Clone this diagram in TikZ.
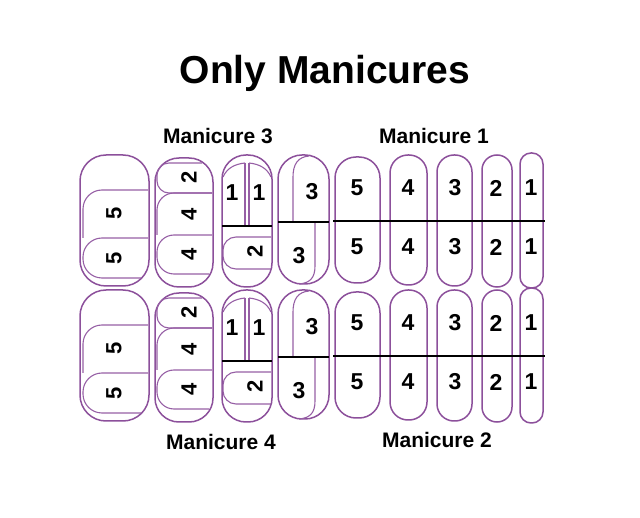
\documentclass[tikz,border=0pt]{standalone}
\usepackage{fontspec}
\setmainfont{Liberation Sans}
\usetikzlibrary{positioning}
\definecolor{nailpurple}{RGB}{140,80,155}
\definecolor{piecepurple}{RGB}{150,95,165}

\begin{document}
\begin{tikzpicture}[x=1pt,y=-1pt]

        % Style definitions
        \tikzstyle{nail} = [draw=nailpurple, line width=1.5pt]
        \tikzstyle{piece} = [draw=piecepurple, line width=1.1pt]
        \tikzstyle{split} = [draw=black, line width=1.4pt]
        \tikzstyle{num} = [inner sep=0pt, font=\bfseries\fontsize{23}{23}\selectfont]
        \tikzstyle{numrot} = [inner sep=0pt, rotate=90, font=\bfseries\fontsize{22}{22}\selectfont]
        \tikzstyle{caption} = [font=\bfseries\fontsize{21}{21}\selectfont]

        \useasboundingbox (0,0) rectangle (640,518);

        % Title and captions
        \node[font=\bfseries\fontsize{39}{39}\selectfont] (title) at (325,73) {Only Manicures};
        \node[caption] (man3) at (218,136) {Manicure 3};
        \node[caption] (man1) at (434,136) {Manicure 1};
        \node[caption] (man4) at (221,442) {Manicure 4};
        \node[caption] (man2) at (437,440) {Manicure 2};

        % Both rows of nails
        \foreach \row/\dy in {u/0, d/135} {
        \begin{scope}[shift={(0,\dy)}]

            % Nail A: two pieces
            \draw[nail, rounded corners=26] (80,155) rectangle (149,286);
            \draw[piece, rounded corners=19] (148,190) -- (83,190) -- (83,238);
            \draw[piece, rounded corners=19] (148,238) -- (83,238) -- (83,278) -- (141,278);
            \node[numrot] (a1-\row) at (114,213) {5};
            \node[numrot] (a2-\row) at (114,258) {5};

            % Nail B: three pieces
            \draw[nail, rounded corners=24] (155,158) rectangle (213,287);
            \draw[piece, rounded corners=12] (202,163) -- (157,163) -- (157,193) -- (212,193);
            \draw[piece, rounded corners=17] (212,193) -- (157,193) -- (157,235);
            \draw[piece, rounded corners=17] (212,235) -- (157,235) -- (157,274) -- (209,274);
            \node[numrot] (b1-\row) at (189,177) {2};
            \node[numrot] (b2-\row) at (189,214) {4};
            \node[numrot] (b3-\row) at (189,254) {4};

            % Nail C: split top, one piece below
            \draw[nail, rounded corners=24] (222,155) rectangle (272,287);
            \draw[piece] (245,163) -- (245,226);
            \draw[piece] (249,163) -- (249,226);
            \draw[piece] (245,163) .. controls (235,164) and (227,168) .. (223,177);
            \draw[piece] (249,163) .. controls (259,164) and (267,168) .. (271,177);
            \draw[split] (222,226) -- (272,226);
            \draw[piece, rounded corners=13] (271,237) -- (223,237) -- (223,269) -- (271,269);
            \node[num] (c1-\row) at (232,193) {1};
            \node[num] (c2-\row) at (259,193) {1};
            \node[numrot] (c3-\row) at (255,251) {2};

            % Nail D: two offset pieces
            \draw[nail, rounded corners=24] (278,155) rectangle (329,284);
            \draw[piece] (293,222) -- (293,177) .. controls (293,164) and (298,157) .. (309,156);
            \draw[piece] (315,222) -- (315,266) .. controls (315,278) and (310,283) .. (299,284);
            \draw[split] (278,222) -- (329,222);
            \node[num] (d1-\row) at (312,192) {3};
            \node[num] (d2-\row) at (299,256) {3};

            % Nails E to I: halves
            \draw[nail, rounded corners=21] (335,157) rectangle (380,283);
            \draw[nail, rounded corners=18] (390,155) rectangle (427,285);
            \draw[nail, rounded corners=17] (437,155) rectangle (472,286);
            \draw[nail, rounded corners=15] (482,155) rectangle (512,287);
            \draw[nail, rounded corners=11] (520,153) rectangle (543,288);
            \draw[split] (333,221) -- (545,221);
            \foreach \n/\x in {5/357, 4/408, 3/455, 2/496, 1/531} {
                \node[num] (t\n-\row) at (\x,188) {\n};
                \node[num] (b\n-\row) at (\x,247) {\n};
            }

        \end{scope}
        }

    \end{tikzpicture}
\end{document}
